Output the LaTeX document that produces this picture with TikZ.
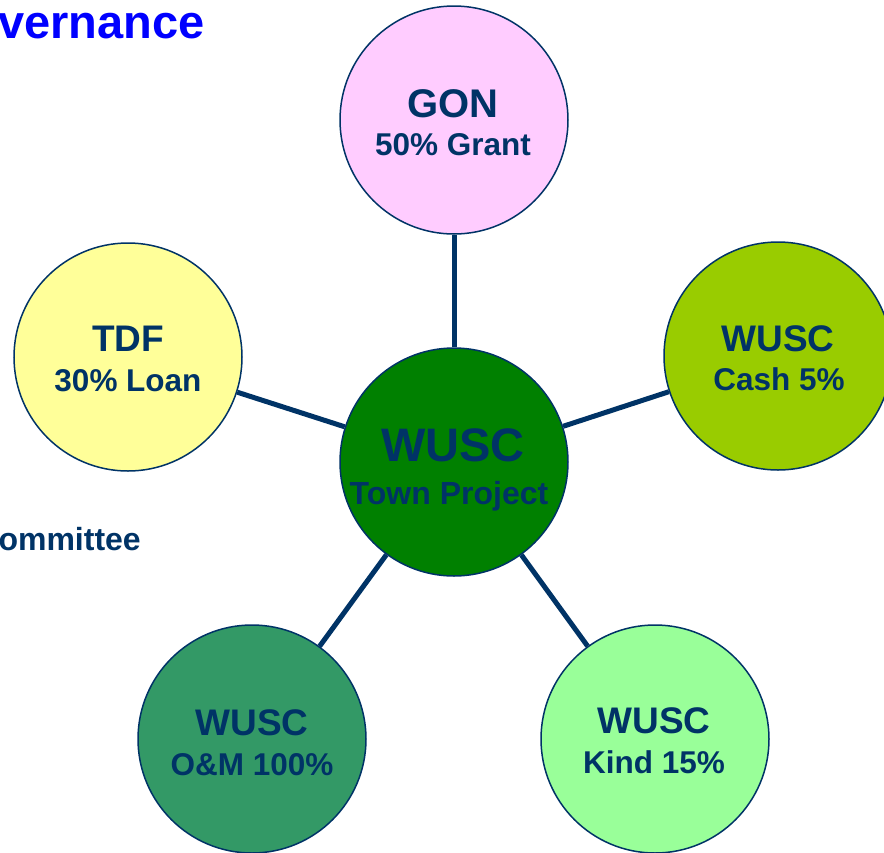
\documentclass[tikz,border=0pt]{standalone}
\usepackage{fontspec}
\setmainfont{Liberation Sans}
\definecolor{navy}{HTML}{003366}
\definecolor{pinkf}{HTML}{FFCCFF}
\definecolor{yelf}{HTML}{FFFF99}
\definecolor{limef}{HTML}{99CC00}
\definecolor{greenf}{HTML}{008000}
\definecolor{seaf}{HTML}{339966}
\definecolor{mintf}{HTML}{99FF99}
\definecolor{titleblue}{HTML}{0000FF}
\tikzset{
  bubble/.style={circle, draw=navy, line width=1.5pt, minimum size=228pt, inner sep=0pt},
  link/.style={draw=navy, line width=5pt},
  ttl/.style={anchor=base, text=navy, font=\bfseries\fontsize{37}{37}\selectfont, inner sep=0pt},
  sub/.style={anchor=base, text=navy, font=\bfseries\fontsize{31.5}{31.5}\selectfont, inner sep=0pt},
}
\begin{document}
\begin{tikzpicture}[x=1pt,y=-1pt]
\useasboundingbox (0,0) rectangle (884,852);
% circles
\node[bubble, fill=greenf] (c) at (454,462) {};
\node[bubble, fill=pinkf] (gon) at (454,120) {};
\node[bubble, fill=yelf] (tdf) at (128,357) {};
\node[bubble, fill=limef] (cash) at (778,356) {};
\node[bubble, fill=seaf] (om) at (252,739) {};
\node[bubble, fill=mintf] (kind) at (655,739) {};
% connectors
\draw[link] (c) -- (gon);
\draw[link] (c) -- (tdf);
\draw[link] (c) -- (cash);
\draw[link] (c) -- (om);
\draw[link] (c) -- (kind);
% texts
\node[anchor=base, text=navy, font=\bfseries\fontsize{47}{47}\selectfont, inner sep=0pt] (ct1) at (453,461) {WUSC};
\node[anchor=base, text=navy, font=\bfseries\fontsize{32}{32}\selectfont, inner sep=0pt] (ct2) at (449,504) {Town Project};
\node[ttl, font=\bfseries\fontsize{40}{40}\selectfont] (g1) at (453,117) {GON};
\node[sub] (g2) at (453,155) {50\% Grant};
\node[ttl] (t1) at (128,351) {TDF};
\node[sub] (t2) at (128,391) {30\% Loan};
\node[ttl] (w1) at (778,351) {WUSC};
\node[sub] (w2) at (779,390) {Cash 5\%};
\node[ttl] (o1) at (252,735) {WUSC};
\node[sub] (o2) at (252,775) {O\&M 100\%};
\node[ttl] (k1) at (654,733) {WUSC};
\node[sub] (k2) at (654,773) {Kind 15\%};
% cut-off headings
\node[anchor=base east, text=titleblue, font=\bfseries\fontsize{47}{47}\selectfont, inner sep=0pt] (hd) at (205,38) {vernance};
\node[anchor=base east, text=navy, font=\bfseries\fontsize{32}{32}\selectfont, inner sep=0pt] (cm) at (141,550) {ommittee};
\end{tikzpicture}
\end{document}
